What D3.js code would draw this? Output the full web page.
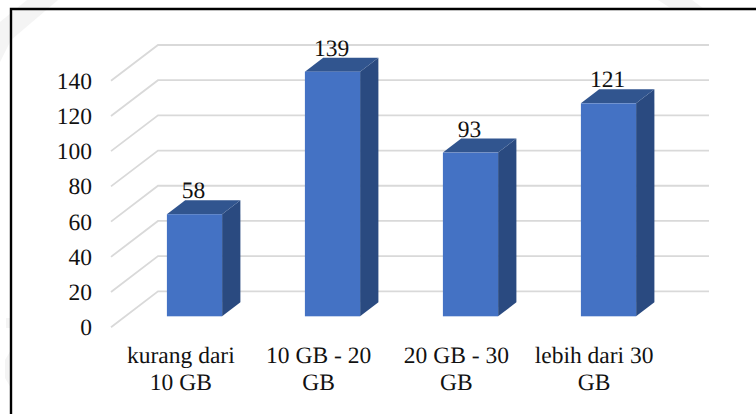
<!DOCTYPE html>
<html>
<head>
<meta charset="utf-8">
<script src="https://cdn.jsdelivr.net/npm/d3@7"></script>
<style>
  html, body { margin: 0; padding: 0; background: #fff; overflow: hidden; }
  svg { display: block; }
  text { font-family: "Liberation Serif", serif; fill: #111; text-rendering: geometricPrecision; }
</style>
</head>
<body>
<div id="chart"></div>
<script>
// 0) Data
var categories = ["kurang dari 10 GB", "10 GB - 20 GB", "20 GB - 30 GB", "lebih dari 30 GB"];
var categoryLines = [["kurang dari", "10 GB"], ["10 GB - 20", "GB"], ["20 GB - 30", "GB"], ["lebih dari 30", "GB"]];
var values = [58, 139, 93, 121];
var yTicks = [0, 20, 40, 60, 80, 100, 120, 140];

function drawChart(containerId) {
    // 1) Dimensions
    var w = 756,
        h = 414,
        fontSize = 23.5;

    // depth of the 3d look: wall runs from the front to the back plane, bars are shallower
    var wallDx = 47,
        barDx = 18.3,
        barDy = 14;

    var svg = d3.select(containerId)
        .append("svg")
        .attr("width", w)
        .attr("height", h);

    // faint watermark bits around the frame
    var marks = ["M0,22 L27,0 L58,0 L11,40 L0,62 Z", "M658,0 L692,0 L704,9 L672,9 Z",
        "M6,318 L11,318 L11,328 L6,328 Z", "M5,360 L11,350 L11,388 L5,378 Z"];
    svg.selectAll("path.wm")
        .data(marks)
        .enter().append("path")
        .attr("class", "wm")
        .attr("d", function (d) { return d; })
        .attr("fill", "#f4f4f4");

    // 2) Frame (only top and left sides are visible)
    svg.append("path")
        .attr("d", "M11,414 V9 H756")
        .attr("fill", "none")
        .attr("stroke", "#000")
        .attr("stroke-width", 2.4);

    // 3) Scales: front wall edge, back wall and the plane the bar fronts sit in
    var yFront = d3.scaleLinear().domain([0, 140]).range([327.3, 80.7]);
    var yBack = d3.scaleLinear().domain([0, 140]).range([291.3, 45]);
    var yBar = d3.scaleLinear().domain([0, 140]).range([316.3, 69.9]);

    var xScale = d3.scaleBand()
        .domain(categories)
        .range([125.5, 677.5])
        .paddingInner(0.6)
        .paddingOuter(0.3);

    var xLabel = d3.scaleBand()
        .domain(categories)
        .range([112, 663]);

    // 4) Gridlines, bent where the side wall meets the back wall
    svg.append("g").selectAll("path")
        .data(yTicks)
        .enter().append("path")
        .attr("d", function (d) {
            return "M111," + yFront(d) + " L" + (111 + wallDx) + "," + yBack(d) + " H709";
        })
        .attr("fill", "none")
        .attr("stroke", "#d9d9d9")
        .attr("stroke-width", 1.8);

    // 5) Y axis labels
    var yAxis = d3.axisLeft(yFront).tickValues(yTicks).tickSize(0).tickPadding(0);
    var yg = svg.append("g")
        .attr("transform", "translate(92,0)")
        .call(yAxis);
    yg.select(".domain").remove();
    yg.selectAll("text")
        .style("font-family", '"Liberation Serif", serif')
        .attr("font-size", fontSize)
        .attr("fill", "#111");

    // 6) Bars: side, top, front
    var bars = svg.selectAll("g.bar")
        .data(values)
        .enter().append("g")
        .attr("class", "bar");

    bars.append("path")
        .attr("fill", "#2a4a80")
        .attr("d", function (d, i) {
            var x1 = xScale(categories[i]) + xScale.bandwidth();
            return "M" + x1 + "," + yBar(d) + " l" + barDx + "," + (-barDy) +
                " V" + (yBar(0) - barDy) + " L" + x1 + "," + yBar(0) + " Z";
        });

    bars.append("path")
        .attr("fill", "#31558f")
        .attr("d", function (d, i) {
            var x0 = xScale(categories[i]);
            return "M" + x0 + "," + yBar(d) + " l" + barDx + "," + (-barDy) +
                " h" + xScale.bandwidth() + " l" + (-barDx) + "," + barDy + " Z";
        });

    bars.append("rect")
        .attr("fill", "#4472c4")
        .attr("x", function (d, i) { return xScale(categories[i]); })
        .attr("y", function (d) { return yBar(d); })
        .attr("width", xScale.bandwidth())
        .attr("height", function (d) { return yBar(0) - yBar(d); });

    // 7) Value labels
    bars.append("text")
        .attr("text-anchor", "middle")
        .attr("font-size", fontSize)
        .attr("x", function (d, i) { return xScale(categories[i]) + xScale.bandwidth() / 2 - 1; })
        .attr("y", function (d) { return yBar(d) - barDy - 2; })
        .text(function (d) { return d; });

    // 8) Category labels, two lines each
    var cat = svg.selectAll("text.cat")
        .data(categories)
        .enter().append("text")
        .attr("class", "cat")
        .attr("text-anchor", "middle")
        .attr("font-size", fontSize);

    cat.selectAll("tspan")
        .data(function (d, i) { return categoryLines[i]; })
        .enter().append("tspan")
        .attr("x", function () {
            var c = d3.select(this.parentNode).datum();
            return xLabel(c) + xLabel.bandwidth() / 2;
        })
        .attr("y", function (d, i) { return 363 + i * 27; })
        .text(function (d) { return d; });
}

drawChart("#chart");
</script>
</body>
</html>
